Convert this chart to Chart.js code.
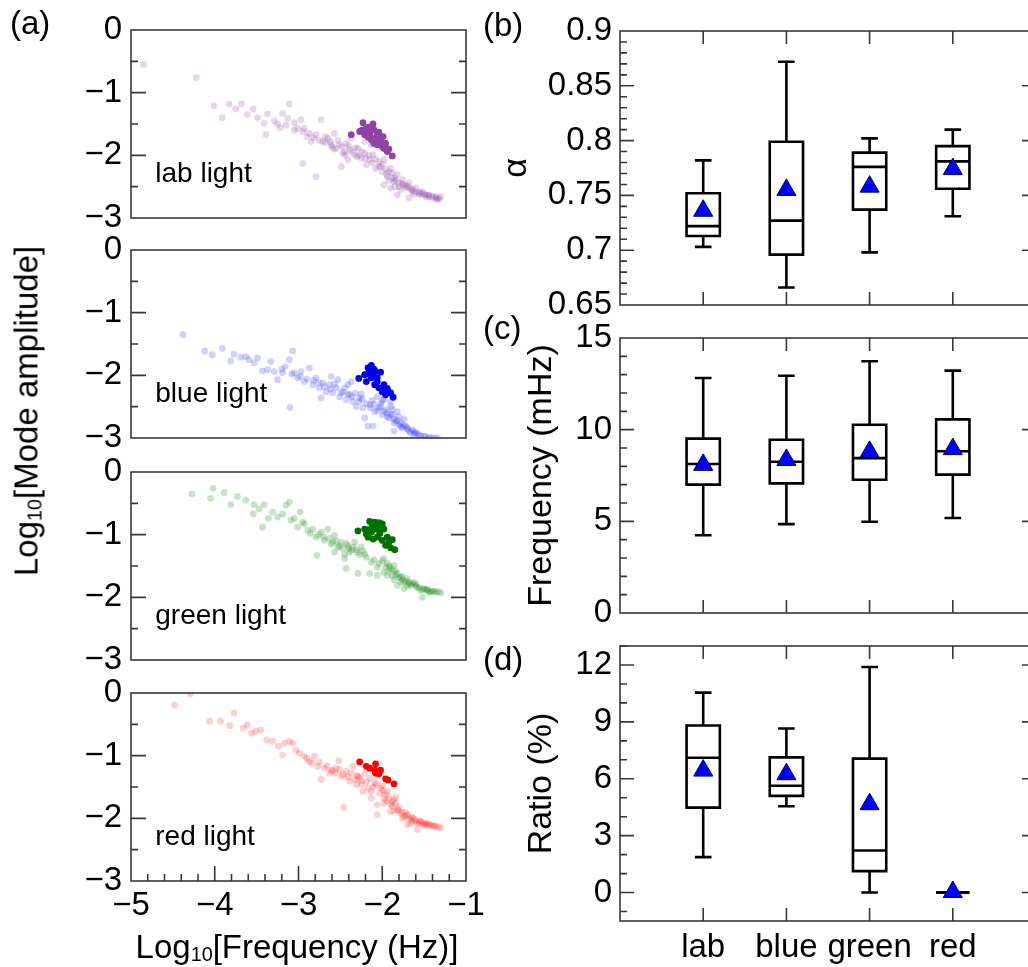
<!DOCTYPE html>
<html>
<head>
<meta charset="utf-8">
<script src="https://cdn.jsdelivr.net/npm/chart.js@4.4.1/dist/chart.umd.min.js"></script>
<style>
html, body { margin: 0; padding: 0; background: #fff; overflow: hidden; }
#fig { position: relative; width: 1028px; height: 967px; overflow: hidden; font-family: "Liberation Sans", Arial, sans-serif; color: #000; }
#fig canvas { position: absolute; }
.txt { position: absolute; white-space: nowrap; line-height: 1; }
.txt sub { font-size: 60%; vertical-align: -0.18em; line-height: 0; }
</style>
</head>
<body>
<div id="fig">
  <canvas id="p1"></canvas>
  <canvas id="p2"></canvas>
  <canvas id="p3"></canvas>
  <canvas id="p4"></canvas>
  <canvas id="pb"></canvas>
  <canvas id="pc"></canvas>
  <canvas id="pd"></canvas>
  <div class="txt" style="left:10px;top:6px;font-size:33px">(a)</div>
  <div class="txt" style="left:483px;top:8px;font-size:33px">(b)</div>
  <div class="txt" style="left:483px;top:311px;font-size:33px">(c)</div>
  <div class="txt" style="left:483px;top:642px;font-size:33px">(d)</div>
  <div class="txt" style="left:26px;top:411px;font-size:33px;transform:translate(-50%,-50%) rotate(-90deg)">Log<sub>10</sub>[Mode amplitude]</div>
  <div class="txt" style="left:297px;top:946px;font-size:33px;transform:translate(-50%,-50%)">Log<sub>10</sub>[Frequency (Hz)]</div>
</div>
<script>
// tick labels
const ampTicks = [0, -1, -2, -3];
const logFreqTicks = [-5, -4, -3, -2, -1];
const alphaTicks = [0.65, 0.7, 0.75, 0.8, 0.85, 0.9];
const freqTicks = [0, 5, 10, 15];
const ratioTicks = [0, 3, 6, 9, 12];
const categories = ['lab', 'blue', 'green', 'red'];
const panelNames = ['lab light', 'blue light', 'green light', 'red light'];

// (a) scatter points [log10 f, log10 amplitude]
const labFaint = [[-4.85,-0.55],[-4.22,-0.76],[-4.01,-1.21],[-3.83,-1.18],[-3.75,-1.26],[-3.68,-1.18],[-3.61,-1.35],[-3.54,-1.26],[-3.91,-1.40],[-3.49,-1.40],[-3.41,-1.49],[-3.39,-1.67],[-3.37,-1.34],[-3.29,-1.45],[-3.22,-1.56],[-3.19,-1.33],[-3.13,-1.41],[-3.11,-1.18],[-3.05,-1.48],[-3.01,-1.57],[-2.97,-1.43],[-2.93,-1.57],[-2.87,-1.65],[-2.85,-1.78],[-2.79,-1.67],[-2.73,-1.43],[-2.71,-1.78],[-2.65,-1.73],[-2.61,-1.83],[-2.57,-1.65],[-2.55,-1.89],[-2.51,-1.83],[-2.47,-1.97],[-2.43,-1.81],[-2.39,-1.91],[-2.49,-2.18],[-2.95,-2.13],[-2.79,-2.34],[-2.33,-1.99],[-2.29,-1.89],[-2.25,-2.05],[-2.21,-1.97],[-2.19,-2.15],[-2.15,-2.07],[-2.11,-1.99],[-2.08,-2.21],[-2.04,-2.10],[-2.00,-2.26],[-1.98,-2.07],[-1.94,-2.34],[-1.90,-2.21],[-1.86,-2.42],[-1.82,-2.31],[-1.80,-2.50],[-1.76,-2.39],[-1.72,-2.52],[-1.68,-2.44],[-1.64,-2.58],[-1.60,-2.52],[-1.56,-2.63],[-1.52,-2.58],[-1.48,-2.66],[-1.44,-2.63],[-1.40,-2.68],[-1.36,-2.66],[-1.32,-2.69],[-1.30,-2.66],[-1.82,-2.63],[-1.68,-2.68],[-1.98,-2.47],[-1.90,-2.52],[-2.21,-1.78],[-2.13,-1.83],[-2.37,-1.73],[-2.41,-2.07],[-1.95,-2.30],[-1.85,-2.36],[-1.75,-2.47],[-1.65,-2.55],[-1.55,-2.60],[-1.45,-2.64],[-1.35,-2.70],[-1.50,-2.62],[-1.70,-2.49],[-1.88,-2.28],[-2.02,-2.18],[-2.30,-2.02],[-2.45,-1.94],[-2.60,-1.86],[-2.68,-1.80],
  [-3.25,-1.50],[-3.15,-1.52],[-3.05,-1.60],[-2.95,-1.62],[-2.90,-1.70],[-2.82,-1.72],[-2.75,-1.76],[-2.68,-1.70],[-2.62,-1.78],[-2.58,-1.90],[-2.53,-1.76],[-2.48,-1.86],[-2.44,-2.00],[-2.40,-1.85],[-2.36,-1.95],[-2.32,-1.88],[-2.28,-2.00],[-2.24,-1.94],[-2.20,-2.05],[-2.16,-2.00],[-2.12,-2.12],[-2.08,-2.06],[-2.04,-2.18],[-2.00,-2.14],[-1.96,-2.22],[-1.92,-2.26],[-1.88,-2.36],[-1.84,-2.40],[-1.80,-2.44],[-1.76,-2.45],[-1.72,-2.48],[-1.68,-2.52],[-1.64,-2.54],[-1.60,-2.58],[-1.56,-2.59],[-1.52,-2.62],[-1.48,-2.63],[-1.44,-2.66],[-1.40,-2.65],[-1.36,-2.68],[-1.33,-2.70],[-1.62,-2.62],[-1.78,-2.55],[-1.92,-2.40],[-1.85,-2.50]];
const labHot = [[-2.37,-1.67],[-2.23,-1.48],[-2.11,-1.50],[-2.27,-1.62],[-2.19,-1.57],[-2.21,-1.67],[-2.15,-1.65],[-2.10,-1.59],[-2.04,-1.63],[-1.99,-1.70],[-2.13,-1.75],[-2.08,-1.73],[-2.02,-1.78],[-1.96,-1.81],[-2.06,-1.83],[-1.98,-1.89],[-1.94,-1.94],[-1.88,-2.01],[-2.17,-1.71],[-2.02,-1.70],[-2.10,-1.81],[-2.00,-1.86],[-1.92,-1.90],[-2.18,-1.62],[-2.14,-1.70],[-2.06,-1.68],[-2.04,-1.76],[-1.97,-1.84],[-2.12,-1.60],[-2.24,-1.60],[-2.16,-1.55]];
const blueFaint = [[-4.38,-1.35],[-4.12,-1.61],[-4.03,-1.67],[-3.91,-1.57],[-3.81,-1.77],[-3.77,-1.66],[-3.69,-1.71],[-3.63,-1.70],[-3.59,-1.75],[-3.53,-1.80],[-3.49,-1.72],[-3.43,-1.93],[-3.37,-1.91],[-3.33,-1.78],[-3.29,-1.94],[-3.25,-2.07],[-3.19,-1.96],[-3.16,-1.86],[-3.11,-1.75],[-3.07,-1.61],[-3.10,-2.51],[-3.05,-1.96],[-3.01,-2.04],[-2.97,-1.94],[-2.93,-2.10],[-2.87,-1.88],[-2.83,-2.15],[-2.79,-2.04],[-2.75,-2.20],[-2.71,-2.12],[-2.67,-2.26],[-2.73,-2.36],[-2.63,-2.15],[-2.59,-2.28],[-2.55,-2.20],[-2.51,-2.34],[-2.47,-2.26],[-2.43,-2.39],[-2.39,-2.31],[-2.35,-2.42],[-2.31,-2.50],[-2.27,-2.36],[-2.21,-2.68],[-2.17,-2.81],[-2.11,-2.81],[-2.23,-2.52],[-2.15,-2.47],[-2.09,-2.58],[-2.04,-2.52],[-2.00,-2.63],[-1.96,-2.55],[-1.92,-2.68],[-1.88,-2.63],[-1.84,-2.73],[-1.80,-2.79],[-1.76,-2.84],[-1.72,-2.81],[-1.68,-2.89],[-1.64,-2.87],[-1.60,-2.92],[-1.56,-2.95],[-1.50,-2.97],[-1.42,-2.99],[-1.34,-3.00],[-1.86,-2.89],[-1.82,-2.58],[-1.90,-2.42],[-1.98,-2.39],[-2.06,-2.34],[-2.41,-2.15],[-2.53,-2.07],[-2.61,-2.02],[-2.37,-2.10],[-1.94,-2.60],[-1.86,-2.70],[-1.78,-2.76],[-1.70,-2.86],[-1.62,-2.90],[-1.74,-2.70],[-1.90,-2.50],[-2.02,-2.45],[-2.12,-2.40],[-2.25,-2.30],
  [-3.20,-1.90],[-3.08,-1.98],[-2.98,-2.02],[-2.90,-2.06],[-2.82,-2.08],[-2.76,-2.12],[-2.69,-2.18],[-2.62,-2.22],[-2.57,-2.14],[-2.49,-2.28],[-2.45,-2.20],[-2.41,-2.30],[-2.36,-2.34],[-2.32,-2.28],[-2.28,-2.42],[-2.24,-2.38],[-2.19,-2.45],[-2.14,-2.52],[-2.10,-2.46],[-2.06,-2.56],[-2.02,-2.50],[-1.98,-2.58],[-1.94,-2.66],[-1.90,-2.62],[-1.86,-2.76],[-1.82,-2.72],[-1.78,-2.82],[-1.74,-2.80],[-1.70,-2.84],[-1.66,-2.92],[-1.62,-2.94],[-1.58,-2.93],[-1.54,-2.97],[-1.48,-2.98],[-1.44,-3.00],[-1.38,-3.00],[-1.80,-2.66],[-1.88,-2.54],[-2.00,-2.40]];
const blueHot = [[-2.28,-2.05],[-2.21,-1.99],[-2.17,-1.88],[-2.13,-1.84],[-2.08,-1.94],[-2.02,-1.95],[-2.19,-2.10],[-2.13,-2.04],[-2.06,-2.04],[-2.09,-2.15],[-2.04,-2.20],[-1.98,-2.15],[-1.94,-2.21],[-1.90,-2.28],[-1.87,-2.35],[-1.96,-2.31],[-2.00,-2.26],[-2.15,-1.99],[-2.11,-2.02],[-2.16,-1.95],[-2.10,-1.90],[-2.06,-2.10],[-2.00,-2.20],[-1.93,-2.26]];
const greenFaint = [[-4.27,-0.35],[-4.05,-0.42],[-4.02,-0.26],[-3.89,-0.33],[-3.81,-0.52],[-3.73,-0.39],[-3.63,-0.45],[-3.53,-0.52],[-3.54,-0.67],[-3.47,-0.59],[-3.43,-0.88],[-3.41,-0.52],[-3.36,-0.74],[-3.31,-0.64],[-3.25,-0.72],[-3.19,-0.67],[-3.15,-0.53],[-3.11,-0.48],[-3.09,-0.77],[-3.05,-0.74],[-3.01,-0.88],[-2.98,-0.64],[-2.93,-0.83],[-2.89,-0.93],[-2.83,-0.91],[-2.79,-1.04],[-2.78,-1.33],[-2.73,-0.96],[-2.69,-1.09],[-2.65,-0.91],[-2.61,-1.15],[-2.57,-1.01],[-2.53,-1.20],[-2.49,-1.12],[-2.45,-1.31],[-2.43,-1.54],[-2.41,-1.17],[-2.37,-1.25],[-2.33,-1.12],[-2.29,-1.62],[-2.25,-1.20],[-2.21,-1.31],[-2.15,-1.62],[-2.13,-1.44],[-2.06,-1.65],[-2.06,-1.52],[-1.98,-1.38],[-1.94,-1.46],[-1.90,-1.54],[-1.86,-1.49],[-1.82,-1.62],[-1.78,-1.68],[-1.74,-1.76],[-1.70,-1.70],[-1.66,-1.81],[-1.62,-1.76],[-1.58,-1.84],[-1.54,-1.89],[-1.50,-1.86],[-1.46,-1.89],[-1.42,-1.91],[-1.36,-1.92],[-1.30,-1.93],[-1.52,-2.00],[-1.74,-1.86],[-1.82,-1.81],[-1.94,-1.65],[-1.98,-1.60],[-2.45,-1.38],[-2.57,-1.28],[-1.92,-1.50],[-1.84,-1.58],[-1.76,-1.72],[-1.68,-1.78],[-1.60,-1.82],[-1.48,-1.88],[-1.40,-1.90],[-1.88,-1.66],[-2.30,-1.28],[-2.40,-1.22],
  [-2.95,-0.80],[-2.86,-0.98],[-2.76,-1.00],[-2.70,-1.04],[-2.63,-1.06],[-2.59,-1.12],[-2.55,-1.10],[-2.51,-1.18],[-2.47,-1.22],[-2.43,-1.14],[-2.39,-1.28],[-2.35,-1.20],[-2.31,-1.24],[-2.27,-1.32],[-2.23,-1.26],[-2.19,-1.36],[-2.10,-1.40],[-2.04,-1.46],[-2.00,-1.42],[-1.96,-1.52],[-1.92,-1.58],[-1.88,-1.56],[-1.84,-1.64],[-1.80,-1.68],[-1.76,-1.66],[-1.72,-1.74],[-1.68,-1.76],[-1.64,-1.78],[-1.60,-1.79],[-1.56,-1.85],[-1.52,-1.87],[-1.46,-1.87],[-1.44,-1.92],[-1.38,-1.90],[-1.33,-1.91],[-1.70,-1.82],[-1.86,-1.72],[-1.78,-1.76]];
const greenHot = [[-2.29,-0.94],[-2.21,-0.91],[-2.15,-0.79],[-2.09,-0.80],[-2.04,-0.81],[-2.00,-0.83],[-2.19,-0.99],[-2.13,-0.96],[-2.08,-0.91],[-2.02,-0.93],[-1.98,-0.91],[-2.06,-1.04],[-2.11,-1.07],[-2.00,-1.09],[-1.94,-1.04],[-1.88,-1.08],[-1.96,-1.17],[-1.90,-1.21],[-1.85,-1.24],[-2.17,-1.04],[-2.12,-0.86],[-2.06,-0.86],[-2.03,-0.98],[-2.16,-0.92],[-1.92,-1.12]];
const redFaint = [[-4.48,-0.19],[-4.29,-0.01],[-4.06,-0.45],[-3.93,-0.45],[-3.82,-0.52],[-3.77,-0.32],[-3.66,-0.56],[-3.61,-0.51],[-3.56,-0.64],[-3.51,-0.61],[-3.45,-0.59],[-3.38,-0.75],[-3.31,-0.77],[-3.24,-0.85],[-3.19,-0.99],[-3.17,-0.80],[-3.11,-0.77],[-3.07,-0.80],[-3.03,-0.91],[-2.99,-0.96],[-2.93,-1.01],[-2.87,-1.09],[-2.81,-1.01],[-2.77,-1.17],[-2.73,-1.38],[-2.69,-1.20],[-2.63,-1.28],[-2.59,-1.23],[-2.52,-1.08],[-2.49,-1.33],[-2.46,-1.83],[-2.43,-1.25],[-2.39,-1.41],[-2.35,-1.17],[-2.31,-1.46],[-2.27,-1.36],[-2.23,-1.57],[-2.21,-1.28],[-2.17,-1.52],[-2.13,-1.68],[-2.09,-1.44],[-2.06,-1.78],[-2.02,-1.52],[-1.98,-1.68],[-1.94,-1.57],[-1.90,-1.78],[-1.86,-1.70],[-1.82,-1.86],[-1.78,-1.92],[-1.74,-1.97],[-1.70,-1.94],[-1.66,-2.02],[-1.62,-2.00],[-1.58,-2.08],[-1.54,-2.05],[-1.50,-2.10],[-1.46,-2.08],[-1.42,-2.11],[-1.36,-2.13],[-1.30,-2.15],[-1.58,-2.18],[-1.70,-2.10],[-1.90,-1.89],[-1.98,-1.76],[-2.06,-1.94],[-2.13,-1.57],[-2.25,-1.46],[-1.96,-1.62],[-1.88,-1.74],[-1.80,-1.82],[-1.72,-1.90],[-1.64,-1.98],[-1.56,-2.04],[-1.48,-2.08],[-1.40,-2.12],[-1.84,-1.66],[-2.00,-1.48],[-2.30,-1.32],[-2.55,-1.20],
  [-2.90,-1.04],[-2.84,-1.12],[-2.75,-1.10],[-2.66,-1.16],[-2.61,-1.24],[-2.56,-1.28],[-2.51,-1.22],[-2.47,-1.30],[-2.41,-1.34],[-2.37,-1.28],[-2.33,-1.38],[-2.29,-1.33],[-2.25,-1.40],[-2.19,-1.42],[-2.15,-1.36],[-2.11,-1.50],[-2.07,-1.46],[-2.03,-1.60],[-1.99,-1.56],[-1.95,-1.72],[-1.92,-1.68],[-1.88,-1.80],[-1.84,-1.76],[-1.81,-1.88],[-1.76,-1.90],[-1.72,-1.96],[-1.68,-1.99],[-1.64,-2.04],[-1.60,-2.04],[-1.56,-2.08],[-1.52,-2.07],[-1.48,-2.11],[-1.44,-2.10],[-1.38,-2.12],[-1.33,-2.14],[-1.66,-2.08],[-1.76,-2.00],[-1.86,-1.88]];
const redHot = [[-2.27,-1.10],[-2.19,-1.17],[-2.15,-1.20],[-2.08,-1.13],[-2.09,-1.23],[-2.02,-1.23],[-2.08,-1.28],[-2.04,-1.29],[-1.96,-1.37],[-1.93,-1.39],[-1.86,-1.45]];

// (b) alpha box plots: lab, blue, green, red
const alphaLow  = [0.703, 0.666, 0.698, 0.731];
const alphaQ1   = [0.713, 0.696, 0.737, 0.756];
const alphaMed  = [0.722, 0.727, 0.776, 0.781];
const alphaQ3   = [0.752, 0.799, 0.789, 0.795];
const alphaHigh = [0.782, 0.872, 0.802, 0.810];
const alphaMean = [0.736, 0.755, 0.758, 0.774];
// (c) frequency (mHz)
const freqLow  = [4.24, 4.85, 4.98, 5.18];
const freqQ1   = [7.00, 7.07, 7.27, 7.55];
const freqMed  = [8.13, 8.25, 8.45, 8.82];
const freqQ3   = [9.51, 9.45, 10.27, 10.56];
const freqHigh = [12.82, 12.94, 13.73, 13.22];
const freqMean = [8.08, 8.35, 8.79, 8.94];
// (d) ratio (%)
const ratioLow  = [1.87, 4.55, 0, 0];
const ratioQ1   = [4.48, 5.10, 1.13, 0];
const ratioMed  = [7.11, 5.63, 2.22, 0];
const ratioQ3   = [8.81, 7.13, 7.06, 0];
const ratioHigh = [10.54, 8.65, 11.89, 0];
const ratioMean = [6.43, 6.24, 4.66, 0.03];

Chart.defaults.font.family = '"Liberation Sans", Arial, sans-serif';
Chart.defaults.color = '#000';

const PAD = 40;   // room above/below each frame for the end tick labels
const minus = v => String(+(+v).toFixed(3)).replace('-', '\u2212');

// inward tick marks list: [value, length]
function marks(from, to, step, isMajor, big, small) {
  const out = [];
  const n = Math.round((to - from) / step);
  for (let i = 0; i <= n; i++) {
    const v = from + i * step;
    out.push([v, isMajor(v) ? big : small]);
  }
  return out;
}
const multipleOf = m => v => Math.abs(v / m - Math.round(v / m)) < 1e-6;

const framePlugin = {
  id: 'frame',
  afterDatasetsDraw(chart, args, o) {
    const {ctx, chartArea: a} = chart;
    const xs = chart.scales.x, ys = chart.scales.y;
    ctx.save();
    ctx.strokeStyle = '#383838';
    ctx.lineWidth = 1.6;
    ctx.beginPath();
    (o.y || []).forEach(([v, len]) => {
      const p = ys.getPixelForValue(v);
      ctx.moveTo(a.left, p); ctx.lineTo(a.left + len, p);
      ctx.moveTo(a.right, p); ctx.lineTo(a.right - len, p);
    });
    (o.xBottom || []).forEach(([v, len]) => {
      const p = xs.getPixelForValue(v);
      ctx.moveTo(p, a.bottom); ctx.lineTo(p, a.bottom - len);
    });
    (o.xTop || []).forEach(([v, len]) => {
      const p = xs.getPixelForValue(v);
      ctx.moveTo(p, a.top); ctx.lineTo(p, a.top + len);
    });
    ctx.stroke();
    ctx.strokeRect(a.left, a.top, a.right - a.left, a.bottom - a.top);
    if (o.tag) {
      ctx.fillStyle = '#000';
      ctx.font = '28px "Liberation Sans", Arial, sans-serif';
      ctx.textBaseline = 'alphabetic';
      ctx.fillText(o.tag, xs.getPixelForValue(-4.71), ys.getPixelForValue(-2.43));
    }
    ctx.restore();
  }
};

const boxPlugin = {
  id: 'box',
  beforeDatasetsDraw(chart, args, o) {
    if (!o.low) return;
    const {ctx} = chart;
    const xs = chart.scales.x, ys = chart.scales.y;
    ctx.save();
    ctx.strokeStyle = '#000';
    ctx.fillStyle = '#fff';
    ctx.lineWidth = 2.6;
    o.low.forEach((lo, i) => {
      const c = i + 1;
      const xc = xs.getPixelForValue(c);
      const xl = xs.getPixelForValue(c - 0.2), xr = xs.getPixelForValue(c + 0.2);
      const cl = xs.getPixelForValue(c - 0.1), cr = xs.getPixelForValue(c + 0.1);
      const pLo = ys.getPixelForValue(lo), pHi = ys.getPixelForValue(o.high[i]);
      const pQ1 = ys.getPixelForValue(o.q1[i]), pQ3 = ys.getPixelForValue(o.q3[i]);
      const pMed = ys.getPixelForValue(o.med[i]);
      ctx.beginPath();
      ctx.moveTo(xc, pHi); ctx.lineTo(xc, pQ3);
      ctx.moveTo(xc, pQ1); ctx.lineTo(xc, pLo);
      ctx.moveTo(cl, pHi); ctx.lineTo(cr, pHi);
      ctx.moveTo(cl, pLo); ctx.lineTo(cr, pLo);
      ctx.stroke();
      ctx.beginPath();
      ctx.rect(xl, pQ3, xr - xl, pQ1 - pQ3);
      ctx.fill();
      ctx.stroke();
      ctx.beginPath();
      ctx.moveTo(xl, pMed); ctx.lineTo(xr, pMed);
      ctx.stroke();
    });
    ctx.restore();
  }
};

const setTicks = arr => scale => { scale.ticks = arr.map(v => ({value: v})); };

function leftPanel(id, frameTop, faint, hot, faintColor, hotColor, name, showX) {
  const el = document.getElementById(id);
  const below = showX ? 48 : PAD;
  el.width = 540;
  el.height = PAD + 188 + below;
  el.style.left = '0px';
  el.style.top = (frameTop - PAD) + 'px';
  const xOpts = {
    type: 'linear', min: -5, max: -1, display: showX,
    grid: {display: false, drawTicks: false}, border: {display: false},
    afterBuildTicks: setTicks(logFreqTicks),
    ticks: {callback: minus, padding: 5, font: {size: 33}, maxRotation: 0, autoSkip: false}
  };
  if (showX) xOpts.afterFit = s => { s.height = below; };
  new Chart(el, {
    type: 'scatter',
    data: {
      datasets: [
        {data: faint, backgroundColor: faintColor, borderWidth: 0, pointRadius: 3.4},
        {data: hot, backgroundColor: hotColor, borderWidth: 0, pointRadius: 3.4}
      ]
    },
    options: {
      responsive: false,
      animation: false,
      events: [],
      layout: {padding: {top: PAD, right: 74, bottom: showX ? 0 : PAD, left: 0}},
      plugins: {
        legend: {display: false},
        tooltip: {enabled: false},
        frame: {
          y: marks(-2.5, -0.5, 0.5, multipleOf(1), 15, 7),
          xBottom: showX ? marks(-4.8, -1.2, 0.2, multipleOf(1), 15, 7) : [],
          tag: name
        }
      },
      scales: {
        x: xOpts,
        y: {
          type: 'linear', min: -3, max: 0,
          grid: {display: false, drawTicks: false}, border: {display: false},
          afterBuildTicks: setTicks(ampTicks),
          afterFit: s => { s.width = 131; },
          ticks: {callback: minus, padding: 9, font: {size: 33}, autoSkip: false}
        }
      }
    },
    plugins: [framePlugin]
  });
}

leftPanel('p1', 30, labFaint, labHot, 'rgba(150,80,170,0.24)', '#8f43a3', panelNames[0], false);
leftPanel('p2', 250, blueFaint, blueHot, 'rgba(40,40,255,0.22)', '#0000ee', panelNames[1], false);
leftPanel('p3', 472, greenFaint, greenHot, 'rgba(0,128,0,0.22)', '#007000', panelNames[2], false);
leftPanel('p4', 693, redFaint, redHot, 'rgba(255,30,30,0.22)', '#ff0000', panelNames[3], true);

function rightPanel(id, frameTop, frameH, stats, yMin, yMax, yTicks, yMarks, title, titlePad, showX) {
  const el = document.getElementById(id);
  const below = showX ? 50 : PAD;
  el.width = 600;
  el.height = PAD + frameH + below;
  el.style.left = '478px';
  el.style.top = (frameTop - PAD) + 'px';
  const catMarks = [1, 2, 3, 4].map(v => [v, 13]);
  const xOpts = {
    type: 'linear', min: 0, max: 5, display: showX,
    grid: {display: false, drawTicks: false}, border: {display: false},
    afterBuildTicks: setTicks([1, 2, 3, 4]),
    ticks: {callback: (v, i) => categories[i], padding: 7, font: {size: 33}, maxRotation: 0, autoSkip: false}
  };
  if (showX) xOpts.afterFit = s => { s.height = below; };
  new Chart(el, {
    type: 'scatter',
    data: {
      datasets: [{
        data: stats.mean.map((m, i) => ({x: i + 1, y: m})),
        pointStyle: 'triangle', pointRadius: 11,
        backgroundColor: '#0000ff', borderColor: '#000060', borderWidth: 1
      }]
    },
    options: {
      responsive: false,
      animation: false,
      events: [],
      layout: {padding: {top: PAD, right: 42, bottom: showX ? 0 : PAD, left: 0}},
      plugins: {
        legend: {display: false},
        tooltip: {enabled: false},
        box: stats,
        frame: {y: yMarks, xTop: catMarks, xBottom: catMarks}
      },
      scales: {
        x: xOpts,
        y: {
          type: 'linear', min: yMin, max: yMax,
          grid: {display: false, drawTicks: false}, border: {display: false},
          afterBuildTicks: setTicks(yTicks),
          afterFit: s => { s.width = 142; },
          ticks: {callback: minus, padding: 8, font: {size: 33}, autoSkip: false},
          title: {display: true, text: title, font: {size: 34}, padding: {top: titlePad, bottom: 0}}
        }
      }
    },
    plugins: [boxPlugin, framePlugin]
  });
}

rightPanel('pb', 31, 274,
  {low: alphaLow, q1: alphaQ1, med: alphaMed, q3: alphaQ3, high: alphaHigh, mean: alphaMean},
  0.65, 0.9, alphaTicks, marks(0.66, 0.89, 0.01, multipleOf(0.05), 14, 7), '\u03b1', 18, false);
rightPanel('pc', 338, 275,
  {low: freqLow, q1: freqQ1, med: freqMed, q3: freqQ3, high: freqHigh, mean: freqMean},
  0, 15, freqTicks, marks(1, 14, 1, multipleOf(5), 14, 7), 'Frequency (mHz)', 43, false);
rightPanel('pd', 646, 275,
  {low: ratioLow, q1: ratioQ1, med: ratioMed, q3: ratioQ3, high: ratioHigh, mean: ratioMean},
  -1.5, 13, ratioTicks, marks(-1, 13, 1, multipleOf(3), 14, 7), 'Ratio (%)', 43, true);
</script>
</body>
</html>
